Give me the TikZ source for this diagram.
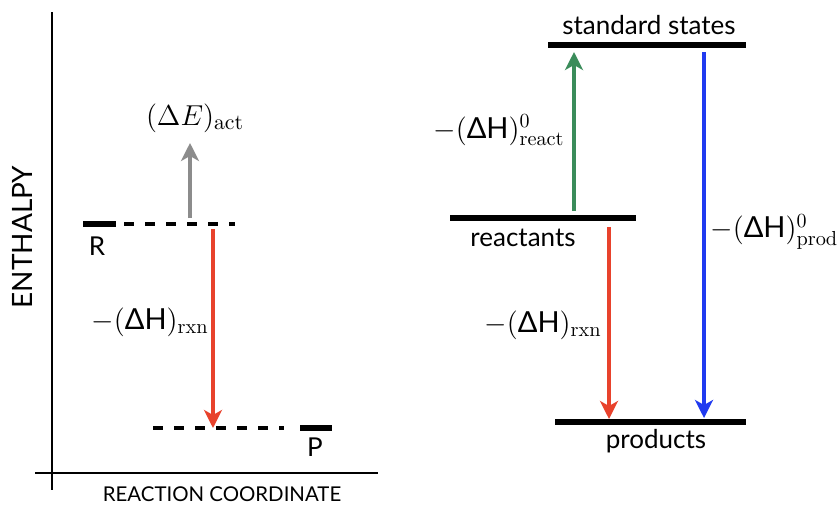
\documentclass[tikz,border=0pt]{standalone}
\usepackage{amsmath}
\usepackage{fontspec}
\usepackage{xcolor}
\usepackage{tikz}
\usetikzlibrary{arrows.meta}
\newfontfamily\gillfont{Lato}
\definecolor{actgray}{RGB}{140,140,140}
\definecolor{rxnred}{RGB}{232,66,44}
\definecolor{reactgreen}{RGB}{58,140,90}
\definecolor{prodblue}{RGB}{32,58,240}

\begin{document}
\begin{tikzpicture}[
  x=0.5pt, y=-0.5pt,
  axis/.style={line width=1.3pt, draw=black},
  level/.style={line width=2.6pt, draw=black},
  guide/.style={line width=2pt, draw=black, dash pattern=on 5pt off 5.5pt},
  arrow/.style={line width=1.8pt, -{Stealth[length=9pt, width=9pt, inset=2.5pt]}},
  word/.style={font=\gillfont\fontsize{13}{15}\selectfont, inner sep=0pt},
  eqn/.style={font=\fontsize{14.5}{17}\selectfont, inner sep=0pt}
]
\useasboundingbox (0,0) rectangle (839,504);
% left panel: axes
\coordinate (ytop) at (52,12);
\coordinate (ybot) at (52,490);
\coordinate (xleft) at (35,473);
\coordinate (xright) at (378,473);
\draw[axis] (ytop) -- (ybot);
\draw[axis] (xleft) -- (xright);
\node[word, rotate=90, font=\gillfont\fontsize{14}{16}\selectfont] (enthalpy) at (22,237) {ENTHALPY};
\node[word, font=\gillfont\fontsize{10.2}{12}\selectfont] (coord) at (222,494) {REACTION COORDINATE};

% left panel: levels
\coordinate (rL) at (83,224);
\coordinate (rR) at (116,224);
\coordinate (rdash) at (235,224);
\coordinate (pL) at (300,428);
\coordinate (pR) at (332,428);
\coordinate (pdash) at (153,428);
\draw[level] (rL) -- (rR);
\draw[guide] ([xshift=4]rR) -- (rdash);
\draw[level] (pL) -- (pR);
\draw[guide] (pdash) -- ([xshift=-8]pL);
\node[word] (rlab) at (97,246) {R};
\node[word] (plab) at (315,447) {P};

% left panel: arrows
\coordinate (actfoot) at (190,218);
\coordinate (acttip) at (190,143);
\coordinate (rxnfoot) at (213,229);
\coordinate (rxntip) at (213,428);
\draw[arrow, actgray] (actfoot) -- (acttip);
\draw[arrow, rxnred] (rxnfoot) -- (rxntip);
\node[eqn, font=\fontsize{15.5}{18}\selectfont] (actlab) at (195,118) {$(\Delta E)_{\mathrm{act}}$};
\node[eqn, anchor=east] (rxnlab) at (209,322) {$-(\text{\gillfont ΔH})_{\mathrm{rxn}}$};

% right panel: levels
\coordinate (sL) at (548,45);
\coordinate (sR) at (746,45);
\coordinate (aL) at (450,218);
\coordinate (aR) at (636,218);
\coordinate (bL) at (555,422);
\coordinate (bR) at (746,422);
\draw[level] (sL) -- (sR);
\draw[level] (aL) -- (aR);
\draw[level] (bL) -- (bR);
\node[word] (stdlab) at (649,25) {standard states};
\node[word] (reactlab) at (523,238) {reactants};
\node[word] (prodlab) at (656,441) {products};

% right panel: arrows
\coordinate (greenfoot) at (574,211);
\coordinate (greentip) at (574,52);
\coordinate (redfoot) at (609,227);
\coordinate (redtip) at (609,419);
\coordinate (bluefoot) at (704,52);
\coordinate (bluetip) at (704,418);
\draw[arrow, reactgreen] (greenfoot) -- (greentip);
\draw[arrow, rxnred] (redfoot) -- (redtip);
\draw[arrow, prodblue] (bluefoot) -- (bluetip);
\node[eqn, anchor=east] (reactdh) at (565,130) {$-(\text{\gillfont ΔH})^{0}_{\mathrm{react}}$};
\node[eqn, anchor=west] (proddh) at (710,232) {$-(\text{\gillfont ΔH})^{0}_{\mathrm{prod}}$};
\node[eqn, anchor=east] (rxndh) at (602,325) {$-(\text{\gillfont ΔH})_{\mathrm{rxn}}$};
\end{tikzpicture}
\end{document}
